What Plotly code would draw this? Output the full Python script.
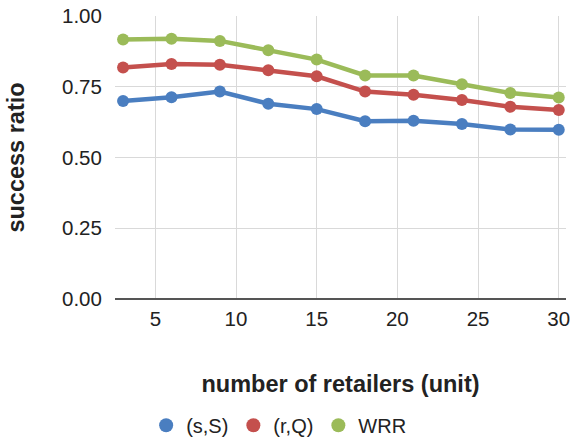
import plotly.graph_objects as go

# number of retailers
retailers = [3, 6, 9, 12, 15, 18, 21, 24, 27, 30]

# success ratio per policy
ss_ratio = [0.700, 0.713, 0.733, 0.690, 0.671, 0.628, 0.630, 0.618, 0.599, 0.598]
rq_ratio = [0.818, 0.830, 0.828, 0.808, 0.787, 0.733, 0.722, 0.703, 0.679, 0.668]
wrr_ratio = [0.917, 0.920, 0.912, 0.879, 0.846, 0.790, 0.790, 0.759, 0.728, 0.712]

series = [
    ("(s,S)", ss_ratio, "#4A7EC0"),
    ("(r,Q)", rq_ratio, "#C4504D"),
    ("WRR", wrr_ratio, "#9BBB59"),
]

x_ticks = [5, 10, 15, 20, 25, 30]
y_ticks = [0, 0.25, 0.5, 0.75, 1.0]

FONT = "Liberation Sans, Arial, sans-serif"

fig = go.Figure()
for name, vals, color in series:
    fig.add_trace(go.Scatter(
        x=retailers, y=vals, mode="lines+markers", name=name,
        line=dict(color=color, width=4.5),
        marker=dict(color=color, size=12),
        showlegend=False,
    ))
# legend entries shown as plain dots
for name, vals, color in series:
    fig.add_trace(go.Scatter(
        x=[None], y=[None], mode="markers", name=name,
        marker=dict(color=color, size=14),
        showlegend=True,
    ))

fig.update_layout(
    width=571, height=437,
    margin=dict(l=115, r=5, t=16, b=138, autoexpand=False),
    paper_bgcolor="white", plot_bgcolor="white",
    font=dict(family=FONT, size=20, color="#222222"),
    legend=dict(
        orientation="h", xref="container", x=0.488, xanchor="center",
        yref="container", y=0.027, yanchor="middle",
        font=dict(size=20, color="#222222"), itemwidth=30,
        traceorder="normal",
    ),
)
fig.update_xaxes(
    range=[2.5, 30.45], tickvals=x_ticks, ticktext=[str(v) for v in x_ticks],
    showgrid=True, gridcolor="#d9d9d9", gridwidth=1,
    zeroline=False, showline=False, automargin=False,
    ticks="outside", ticklen=1, tickcolor="rgba(0,0,0,0)",
    tickfont=dict(size=20.5),
    title=dict(text="<b>number of retailers (unit)</b>", font=dict(size=23.5), standoff=46),
)
fig.update_yaxes(
    range=[0, 1.0], tickvals=y_ticks, ticktext=["0.00", "0.25", "0.50", "0.75", "1.00"],
    showgrid=True, gridcolor="#d9d9d9", gridwidth=1,
    zeroline=True, zerolinecolor="#555555", zerolinewidth=1.5,
    showline=False, automargin=False,
    ticks="outside", ticklen=8, tickcolor="rgba(0,0,0,0)",
    tickfont=dict(size=20.5),
    title=dict(text="<b>success ratio</b>", font=dict(size=23.5), standoff=30),
)

fig.write_html("out.html")
